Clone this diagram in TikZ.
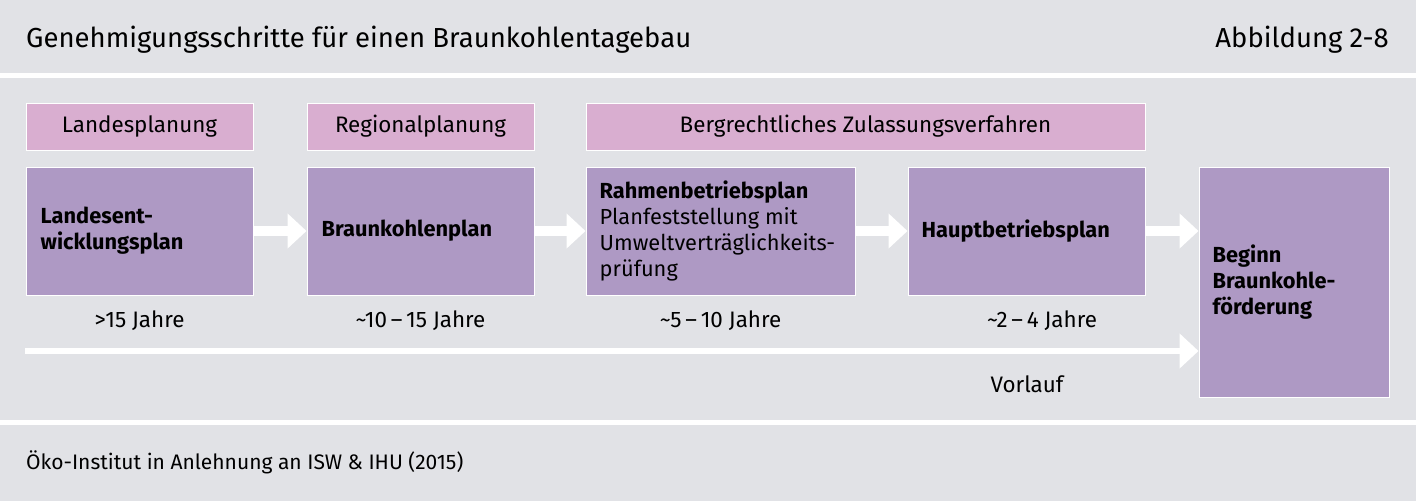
\documentclass[tikz,border=0pt]{standalone}
\usepackage{fontspec}
\setmainfont{Fira Sans}
\usetikzlibrary{arrows.meta}
\definecolor{bg}{RGB}{225,226,230}
\definecolor{hdr}{RGB}{217,174,208}
\definecolor{box}{RGB}{174,153,196}
\begin{document}
\begin{tikzpicture}[x=1pt,y=-1pt,
  hdrbox/.style={draw=white,line width=1pt,fill=hdr,minimum height=47pt,inner sep=0pt,font=\fontsize{22.4}{26}\selectfont},
  stepbox/.style={draw=white,line width=1pt,fill=box,inner sep=0pt},
  boxtext/.style={anchor=west,align=left,inner sep=0pt,font=\fontsize{21.8}{26}\selectfont},
  durtext/.style={inner sep=0pt,font=\fontsize{22.4}{26}\selectfont},
  flow/.style={draw=white,line width=10pt,-{Triangle[length=19pt,width=34pt]}},
  plain/.style={inner sep=0pt}]
\useasboundingbox (0,0) rectangle (1416,501);
\fill[bg] (0,0) rectangle (1416,501);
\fill[white] (0,73) rectangle (1416,78);
\fill[white] (0,420) rectangle (1416,425);
% title
\node[plain,anchor=base west,font=\fontsize{27.5}{32}\selectfont] (title) at (26,47) {Genehmigungsschritte für einen Braunkohlentagebau};
\node[plain,anchor=base east,font=\fontsize{27.5}{32}\selectfont] (fig) at (1389,47) {Abbildung 2-8};
% headers
\node[hdrbox,minimum width=227pt] (h1) at (139.5,126.5) {Landesplanung};
\node[hdrbox,minimum width=227pt] (h2) at (420.5,126.5) {Regionalplanung};
\node[hdrbox,minimum width=559pt] (h3) at (865.5,126.5) {Bergrechtliches Zulassungsverfahren};
% boxes
\node[stepbox,minimum width=227pt,minimum height=128pt] (b1) at (139.5,231) {};
\node[stepbox,minimum width=227pt,minimum height=128pt] (b2) at (420.5,231) {};
\node[stepbox,minimum width=269pt,minimum height=128pt] (b3) at (720.5,231) {};
\node[stepbox,minimum width=237pt,minimum height=128pt] (b4) at (1026.5,231) {};
\node[stepbox,minimum width=190pt,minimum height=230pt] (b5) at (1294,282) {};
% box texts
\node[boxtext] (t1) at ([xshift=15pt]b1.west) {\textbf{Landesent-}\\\textbf{wicklungsplan}};
\node[boxtext] (t2) at ([xshift=15pt]b2.west) {\textbf{Braunkohlenplan}};
\node[boxtext] (t3) at ([xshift=14pt]b3.west) {\textbf{Rahmenbetriebsplan}\\Planfeststellung mit\\Umweltverträglichkeits-\\prüfung};
\node[boxtext] (t4) at ([xshift=14pt]b4.west) {\textbf{Hauptbetriebsplan}};
\node[boxtext] (t5) at ([xshift=14pt]b5.west) {\textbf{Beginn}\\\textbf{Braunkohle-}\\\textbf{förderung}};
% durations
\node[durtext] (d1) at (139.5,321) {>15 Jahre};
\node[durtext] (d2) at (420.5,321) {\textasciitilde 10\,–\,15 Jahre};
\node[durtext] (d3) at (720.5,321) {\textasciitilde 5\,–\,10 Jahre};
\node[durtext] (d4) at (1042,321) {\textasciitilde 2\,–\,4 Jahre};
\node[durtext] (vl) at (1027,384) {Vorlauf};
% arrows
\draw[flow] (b1.east) -- (b2.west);
\draw[flow] (b2.east) -- (b3.west);
\draw[flow] (b3.east) -- (b4.west);
\draw[flow] (b4.east) -- (b4.east -| b5.west);
\coordinate (vstart) at (25,351);
\draw[flow,line width=6pt] (vstart) -- (vstart -| b5.west);
% footer
\node[plain,anchor=base west,font=\fontsize{21}{24}\selectfont] (src) at (26,469) {Öko-Institut in Anlehnung an ISW \& IHU (2015)};
\end{tikzpicture}
\end{document}
